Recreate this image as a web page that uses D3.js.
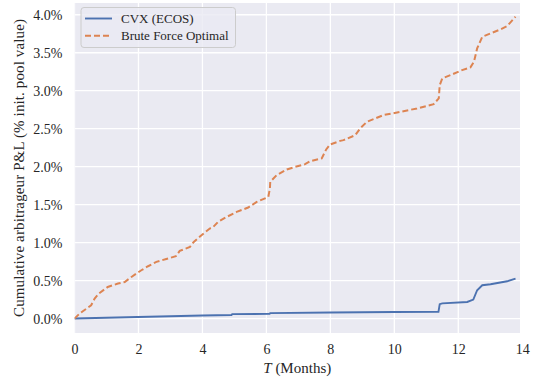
<!DOCTYPE html>
<html>
<head>
<meta charset="utf-8">
<script src="https://cdn.jsdelivr.net/npm/d3@7"></script>
<style>
  body { margin: 0; background: #fff; }
  text { font-family: "Liberation Serif", "DejaVu Serif", serif; fill: #262626; }
</style>
</head>
<body>
<svg id="chart" width="533" height="379"></svg>
<script>
// months since start and cumulative P&L (% of initial pool value)
var cvxMonths = [0, 1.98, 4.0, 4.91, 4.93, 6.1, 6.12, 8.0, 10.0, 11.38, 11.42, 11.5, 12.28, 12.47, 12.59, 12.75, 13.01, 13.53, 13.79];
var cvxPnl    = [0, 0.021, 0.040, 0.047, 0.058, 0.062, 0.072, 0.080, 0.087, 0.088, 0.19, 0.20, 0.219, 0.25, 0.373, 0.439, 0.452, 0.491, 0.527];

var bruteMonths = [0, 0.16, 0.52, 0.63, 0.76, 1.04, 1.36, 1.57, 1.78, 2.09, 2.30, 2.56, 2.87, 3.17, 3.29, 3.61, 3.73, 3.97, 4.23, 4.34, 4.49, 4.76, 5.07, 5.43, 5.70, 6.06, 6.11, 6.12, 6.32, 6.64, 6.90, 7.21, 7.37, 7.73, 7.87, 7.99, 8.31, 8.41, 8.78, 8.93, 9.14, 9.66, 10.19, 10.71, 11.23, 11.39, 11.42, 11.50, 11.76, 12.12, 12.38, 12.49, 12.59, 12.75, 13.01, 13.32, 13.53, 13.79];
var brutePnl    = [0, 0.066, 0.175, 0.264, 0.329, 0.416, 0.461, 0.482, 0.548, 0.636, 0.689, 0.746, 0.785, 0.821, 0.891, 0.943, 1.009, 1.097, 1.186, 1.207, 1.273, 1.339, 1.404, 1.462, 1.536, 1.602, 1.713, 1.800, 1.888, 1.963, 1.997, 2.033, 2.072, 2.108, 2.227, 2.292, 2.340, 2.349, 2.415, 2.503, 2.590, 2.679, 2.722, 2.767, 2.823, 2.899, 3.074, 3.162, 3.206, 3.271, 3.307, 3.381, 3.557, 3.710, 3.755, 3.808, 3.851, 3.974];

var xTicks = [0, 2, 4, 6, 8, 10, 12, 14];
var yTicks = [0, 0.5, 1.0, 1.5, 2.0, 2.5, 3.0, 3.5, 4.0];
var seriesNames = ["CVX (ECOS)", "Brute Force Optimal"];

// plot box (note: "top" is taken by window.top)
var pLeft = 74.5, pRight = 520, pTop = 3, pBottom = 333;
var svg = d3.select("#chart");

var x = d3.scaleLinear().domain([0, 13.93]).range([pLeft, pRight]);
var y = d3.scaleLinear().domain([-0.19, 4.155]).range([pBottom, pTop]);

// plot background
svg.append("rect")
    .attr("x", pLeft).attr("y", pTop)
    .attr("width", pRight - pLeft).attr("height", pBottom - pTop)
    .attr("fill", "#eaeaf2");

svg.append("clipPath").attr("id", "clip").append("rect")
    .attr("x", pLeft).attr("y", pTop).attr("width", pRight - pLeft).attr("height", pBottom - pTop);
var grid = svg.append("g").attr("clip-path", "url(#clip)");

grid.selectAll(".vgrid").data(xTicks).enter().append("line")
    .attr("x1", function(d){ return x(d); }).attr("x2", function(d){ return x(d); })
    .attr("y1", pTop).attr("y2", pBottom)
    .attr("stroke", "#fff").attr("stroke-width", 1.3);
grid.selectAll(".hgrid").data(yTicks).enter().append("line")
    .attr("x1", pLeft).attr("x2", pRight)
    .attr("y1", function(d){ return y(d); }).attr("y2", function(d){ return y(d); })
    .attr("stroke", "#fff").attr("stroke-width", 1.3);

// axes (no ticks, no spines)
var xAxis = d3.axisBottom(x).tickValues(xTicks).tickSize(0).tickPadding(0).tickFormat(d3.format("d"));
svg.append("g").attr("transform", "translate(0," + (pBottom + 11) + ")").call(xAxis)
    .call(function(g){ g.select(".domain").remove(); })
    .selectAll("text").attr("font-size", 14).attr("font-family", "Liberation Serif").attr("fill", "#262626");

var yAxis = d3.axisLeft(y).tickValues(yTicks).tickSize(0).tickPadding(0)
    .tickFormat(function(d){ return d3.format(".1f")(d) + "%"; });
svg.append("g").attr("transform", "translate(" + (pLeft - 12) + ",0)").call(yAxis)
    .call(function(g){ g.select(".domain").remove(); })
    .selectAll("text").attr("font-size", 14).attr("font-family", "Liberation Serif").attr("fill", "#262626");

// lines
var line = d3.line().x(function(d){ return x(d[0]); }).y(function(d){ return y(d[1]); });
var cvxData = d3.zip(cvxMonths, cvxPnl);
var bruteData = d3.zip(bruteMonths, brutePnl);

grid.append("path").datum(cvxData).attr("d", line)
    .attr("fill", "none").attr("stroke", "#4c72b0").attr("stroke-width", 1.9);
grid.append("path").datum(bruteData).attr("d", line)
    .attr("fill", "none").attr("stroke", "#dd8452").attr("stroke-width", 2)
    .attr("stroke-dasharray", "6,3");

// axis labels
var xl = svg.append("text").attr("x", (pLeft + pRight) / 2).attr("y", 373)
    .attr("text-anchor", "middle").attr("font-size", 15);
xl.append("tspan").attr("font-style", "italic").text("T");
xl.append("tspan").text(" (Months)");

svg.append("text")
    .attr("transform", "translate(24," + ((pTop + pBottom) / 2) + ") rotate(-90)")
    .attr("text-anchor", "middle").attr("font-size", 15)
    .attr("textLength", 298).attr("lengthAdjust", "spacing")
    .text("Cumulative arbitrageur P&L (% init. pool value)");

// legend
var lg = svg.append("g");
lg.append("rect").attr("x", 81).attr("y", 7.5).attr("width", 154.5).attr("height", 40)
    .attr("rx", 3).attr("fill", "#eaeaf2").attr("fill-opacity", 0.8)
    .attr("stroke", "#cccccc").attr("stroke-width", 1);
var colors = ["#4c72b0", "#dd8452"];
var dashes = [null, "6,3"];
seriesNames.forEach(function(name, i){
    var yy = 18.5 + i * 17.3;
    lg.append("line").attr("x1", 85).attr("x2", 112).attr("y1", yy).attr("y2", yy)
        .attr("stroke", colors[i]).attr("stroke-width", 1.9)
        .attr("stroke-dasharray", dashes[i]);
    lg.append("text").attr("x", 121).attr("y", yy + 4.5).attr("font-size", 13).text(name);
});
</script>
</body>
</html>
